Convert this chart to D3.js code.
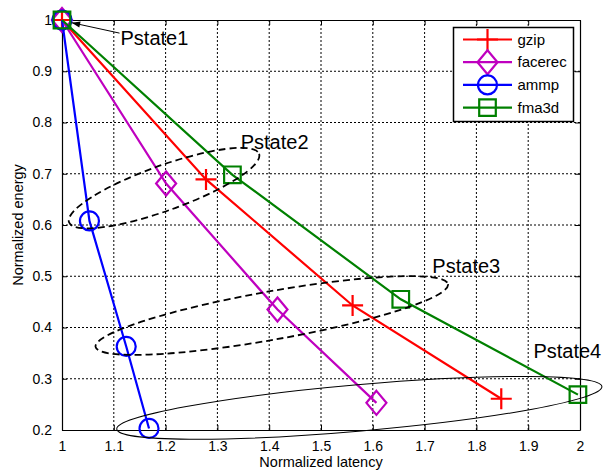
<!DOCTYPE html>
<html>
<head>
<meta charset="utf-8">
<script src="https://cdn.jsdelivr.net/npm/d3@7"></script>
<style>
  html, body { margin: 0; padding: 0; background: #fff; }
  svg { display: block; font-family: "Liberation Sans", Arial, sans-serif; }
</style>
</head>
<body>
<svg id="chart" width="607" height="473"></svg>
<script>
// Benchmarks and their normalized (latency, energy) at each P-state
const seriesNames = ["gzip", "facerec", "ammp", "fma3d"];
const gzipLatency    = [1.00, 1.278, 1.561, 1.848];
const gzipEnergy     = [1.00, 0.689, 0.443, 0.261];
const facerecLatency = [1.00, 1.201, 1.416, 1.607];
const facerecEnergy  = [1.00, 0.681, 0.435, 0.253];
const ammpLatency    = [1.00, 1.053, 1.124, 1.168];
const ammpEnergy     = [1.00, 0.608, 0.363, 0.203];
const fma3dLatency   = [1.00, 1.329, 1.654, 1.996];
const fma3dEnergy    = [1.00, 0.698, 0.455, 0.269];

// Axis ticks
const xTicks = [1, 1.1, 1.2, 1.3, 1.4, 1.5, 1.6, 1.7, 1.8, 1.9, 2];
const yTicks = [0.2, 0.3, 0.4, 0.5, 0.6, 0.7, 0.8, 0.9, 1];
const xTickLabels = ["1", "1.1", "1.2", "1.3", "1.4", "1.5", "1.6", "1.7", "1.8", "1.9", "2"];
const yTickLabels = ["0.2", "0.3", "0.4", "0.5", "0.6", "0.7", "0.8", "0.9", "1"];

// P-state annotations: label anchor and grouping-ellipse centre, in data units
const pstateLabels   = ["Pstate1", "Pstate2", "Pstate3", "Pstate4"];
const labelLatency   = [1.113, 1.345, 1.715, 1.910];
const labelEnergy    = [0.951, 0.749, 0.507, 0.341];
const groupLatency   = [null, 1.197, 1.405, 1.574];
const groupEnergy    = [null, 0.672, 0.4234, 0.2432];

// Drawing styles
const colors  = { gzip: "#ff0000", facerec: "#bf00bf", ammp: "#0000ff", fma3d: "#008000" };
const markers = { gzip: "plus", facerec: "diamond", ammp: "circle", fma3d: "square" };
// ellipse shapes in pixels: semi-axes and tilt (deg), plus stroke style
const ellipseStyle = [
  null,
  { a: 101, b: 22.5, tilt: -19.8, dash: "7,4", width: 1.8 },
  { a: 179, b: 24.2, tilt: -10.1, dash: "7,4", width: 1.8 },
  { a: 243.5, b: 23.2, tilt: -5.0, dash: null, width: 1 }
];

const latencyBySeries = [gzipLatency, facerecLatency, ammpLatency, fma3dLatency];
const energyBySeries  = [gzipEnergy, facerecEnergy, ammpEnergy, fma3dEnergy];

const svg = d3.select("#chart");
const L = 62, R = 580, T = 20, B = 430;

const x = d3.scaleLinear().domain([1, 2]).range([L, R]);
const y = d3.scaleLinear().domain([0.2, 1]).range([B, T]);

// dotted grid
const grid = svg.append("g");
grid.selectAll("line.gx").data(xTicks.slice(1, -1)).join("line")
  .attr("x1", d => x(d)).attr("x2", d => x(d)).attr("y1", T).attr("y2", B)
  .attr("stroke", "#000").attr("stroke-width", 1).attr("stroke-dasharray", "2,2");
grid.selectAll("line.gy").data(yTicks.slice(1, -1)).join("line")
  .attr("x1", L).attr("x2", R).attr("y1", d => y(d)).attr("y2", d => y(d))
  .attr("stroke", "#000").attr("stroke-width", 1).attr("stroke-dasharray", "2,2");

// axes with inward ticks on all four sides
const tickFmt = (labels, ticks) => (d) => labels[ticks.indexOf(d)];
const xAxis = d3.axisBottom(x).tickValues(xTicks).tickSizeInner(-5).tickSizeOuter(0)
  .tickPadding(11).tickFormat(tickFmt(xTickLabels, xTicks));
const yAxis = d3.axisLeft(y).tickValues(yTicks).tickSizeInner(-5).tickSizeOuter(0)
  .tickPadding(10).tickFormat(tickFmt(yTickLabels, yTicks));

const gx = svg.append("g").attr("transform", `translate(0,${B})`).call(xAxis);
const gy = svg.append("g").attr("transform", `translate(${L},0)`).call(yAxis);
svg.append("g").attr("transform", `translate(0,${T})`)
  .call(d3.axisTop(x).tickValues(xTicks).tickSizeInner(-5).tickSizeOuter(0).tickFormat(""));
svg.append("g").attr("transform", `translate(${R},0)`)
  .call(d3.axisRight(y).tickValues(yTicks).tickSizeInner(-5).tickSizeOuter(0).tickFormat(""));
svg.selectAll(".domain").attr("stroke", "#000").attr("stroke-width", 1.2);
svg.selectAll(".tick line").attr("stroke", "#000");
[gx, gy].forEach(g => g.selectAll("text")
  .attr("font-family", "Liberation Sans, Arial, sans-serif")
  .attr("font-size", 14).attr("fill", "#000"));

// axis titles
svg.append("text").attr("x", (L + R) / 2).attr("y", 467).attr("text-anchor", "middle")
  .attr("font-size", 14.5).text("Normalized latency");
svg.append("text").attr("transform", `translate(23,${(T + B) / 2}) rotate(-90)`)
  .attr("text-anchor", "middle").attr("font-size", 14.5).text("Normalized energy");

// marker glyphs
function markerPath(kind) {
  switch (kind) {
    case "plus":    return "M-10.5,0H10.5M0,-10.5V10.5";
    case "diamond": return "M0,-12L10,0L0,12L-10,0Z";
    case "circle":  return "M9.5,0A9.5,9.5 0 1,1 -9.5,0A9.5,9.5 0 1,1 9.5,0Z";
    case "square":  return "M-8.3,-8.3H8.3V8.3H-8.3Z";
  }
}

// series lines and markers
const line = d3.line().x(d => x(d[0])).y(d => y(d[1]));
seriesNames.forEach((name, i) => {
  const pts = latencyBySeries[i].map((v, k) => [v, energyBySeries[i][k]]);
  const g = svg.append("g");
  g.append("path").attr("d", line(pts)).attr("fill", "none")
    .attr("stroke", colors[name]).attr("stroke-width", 2.2);
  g.selectAll("path.m").data(pts).join("path")
    .attr("transform", d => `translate(${x(d[0])},${y(d[1])})`)
    .attr("d", markerPath(markers[name])).attr("fill", "none")
    .attr("stroke", colors[name]).attr("stroke-width", 2.2);
});

// P-state groupings
pstateLabels.forEach((label, i) => {
  const st = ellipseStyle[i];
  if (st) {
    svg.append("ellipse")
      .attr("transform", `translate(${x(groupLatency[i])},${y(groupEnergy[i])}) rotate(${st.tilt})`)
      .attr("rx", st.a).attr("ry", st.b)
      .attr("fill", "none").attr("stroke", "#000").attr("stroke-width", st.width)
      .attr("stroke-dasharray", st.dash);
  }
  svg.append("text").attr("x", x(labelLatency[i])).attr("y", y(labelEnergy[i]))
    .attr("font-size", 20).attr("fill", "#000").text(label);
});

// arrow from the Pstate1 label to the shared starting point
const tipX = x(1) + 9.7, tipY = y(1) + 2.7;
const tailX = x(labelLatency[0]) - 1, tailY = y(labelEnergy[0]) - 12;
const ang = Math.atan2(tipY - tailY, tipX - tailX);
svg.append("line").attr("x1", tailX).attr("y1", tailY).attr("x2", tipX).attr("y2", tipY)
  .attr("stroke", "#000").attr("stroke-width", 1);
const head = 9, spread = 0.35;
svg.append("path")
  .attr("d", `M${tipX},${tipY}L${tipX - head * Math.cos(ang - spread)},${tipY - head * Math.sin(ang - spread)}` +
             `L${tipX - head * Math.cos(ang + spread)},${tipY - head * Math.sin(ang + spread)}Z`)
  .attr("fill", "#000");

// legend
const lg = svg.append("g");
lg.append("rect").attr("x", 453.5).attr("y", 27.5).attr("width", 120).attr("height", 94)
  .attr("fill", "#fff").attr("stroke", "#000").attr("stroke-width", 1.5);
seriesNames.forEach((name, i) => {
  const cy = 39.5 + i * 22.7;
  lg.append("line").attr("x1", 463).attr("x2", 512).attr("y1", cy).attr("y2", cy)
    .attr("stroke", colors[name]).attr("stroke-width", 2.2);
  lg.append("path").attr("transform", `translate(487.5,${cy})`).attr("d", markerPath(markers[name]))
    .attr("fill", "none").attr("stroke", colors[name]).attr("stroke-width", 2.2);
  lg.append("text").attr("x", 517.5).attr("y", cy + 5).attr("font-size", 15).text(name);
});
</script>
</body>
</html>
